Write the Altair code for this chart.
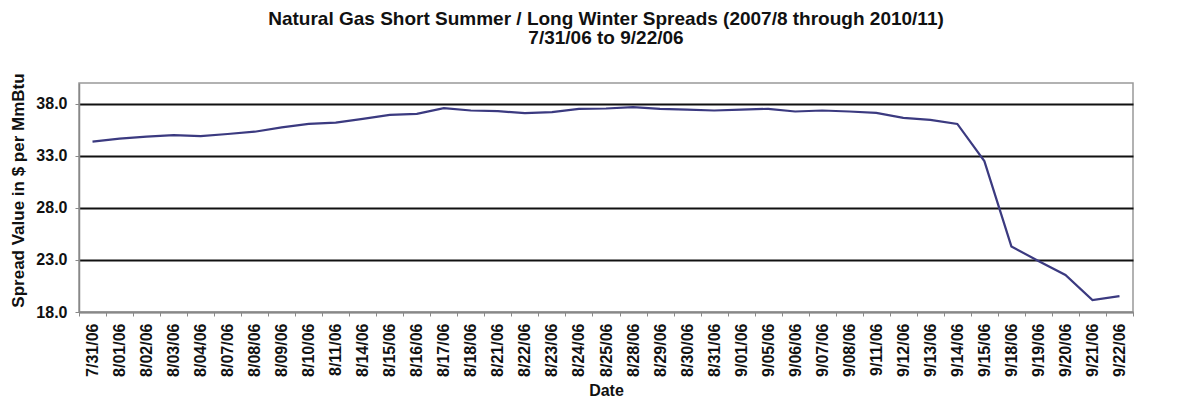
import altair as alt
import pandas as pd

dates = ["7/31/06", "8/01/06", "8/02/06", "8/03/06", "8/04/06", "8/07/06", "8/08/06",
         "8/09/06", "8/10/06", "8/11/06", "8/14/06", "8/15/06", "8/16/06", "8/17/06",
         "8/18/06", "8/21/06", "8/22/06", "8/23/06", "8/24/06", "8/25/06", "8/28/06",
         "8/29/06", "8/30/06", "8/31/06", "9/01/06", "9/05/06", "9/06/06", "9/07/06",
         "9/08/06", "9/11/06", "9/12/06", "9/13/06", "9/14/06", "9/15/06", "9/18/06",
         "9/19/06", "9/20/06", "9/21/06", "9/22/06"]
spread = [34.36, 34.65, 34.84, 35.00, 34.90, 35.10, 35.32,
          35.74, 36.07, 36.19, 36.55, 36.94, 37.03, 37.58,
          37.36, 37.29, 37.10, 37.20, 37.52, 37.55, 37.68,
          37.52, 37.45, 37.36, 37.45, 37.52, 37.26, 37.36,
          37.26, 37.13, 36.65, 36.46, 36.07, 32.50, 24.30,
          22.90, 21.56, 19.14, 19.53]
y_ticks = [18, 23, 28, 33, 38]

df = pd.DataFrame({"Date": dates, "Spread": spread})

FONT = "Liberation Sans"

chart = alt.Chart(df).mark_line(color="#3b3a80", strokeWidth=2.2).encode(
    x=alt.X("Date:N", sort=dates,
            scale=alt.Scale(paddingInner=0, paddingOuter=0),
            axis=alt.Axis(title="Date", labelAngle=270, tickBand="extent",
                          labelFont=FONT, labelFontWeight="bold", labelFontSize=16,
                          labelColor="#111", labelPadding=7, tickSize=4,
                          tickColor="#888", domainColor="#888", domainWidth=1.5,
                          titleFont=FONT, titleFontWeight="bold", titleFontSize=16,
                          titleColor="#111", titleY=78, titleBaseline="middle",
                          labelOverlap=False, zindex=1, grid=False)),
    y=alt.Y("Spread:Q",
            scale=alt.Scale(domain=[18, 40], nice=False, zero=False),
            axis=alt.Axis(title="Spread Value in $ per MmBtu", values=y_ticks, format=".1f",
                          labelFont=FONT, labelFontWeight="bold", labelFontSize=16,
                          labelColor="#111", labelPadding=8, tickSize=4,
                          tickColor="#888", domainColor="#888", domainWidth=1.5,
                          grid=True, gridWidth=2,
                          gridColor={"condition": {"test": "datum.value == 18", "value": "#888"},
                                     "value": "#111"},
                          titleFont=FONT, titleFontWeight="bold", titleFontSize=17,
                          titleColor="#111", titleX=-61, titleY=107,
                          titleBaseline="middle", titleAlign="center")),
).properties(
    width=1054,
    height=229,
    autosize="none",
    padding={"left": 71, "top": 75, "right": 40, "bottom": 90},
    title=alt.TitleParams(
        text=["Natural Gas Short Summer / Long Winter Spreads (2007/8 through 2010/11)",
              "7/31/06 to 9/22/06"],
        font=FONT, fontWeight="bold", fontSize=19, color="#111",
        anchor="middle", frame="group", offset=25, lineHeight=19),
).configure_view(stroke="#999", strokeWidth=1.5)

chart.save("out.html", embed_options={"renderer": "svg", "actions": False})
